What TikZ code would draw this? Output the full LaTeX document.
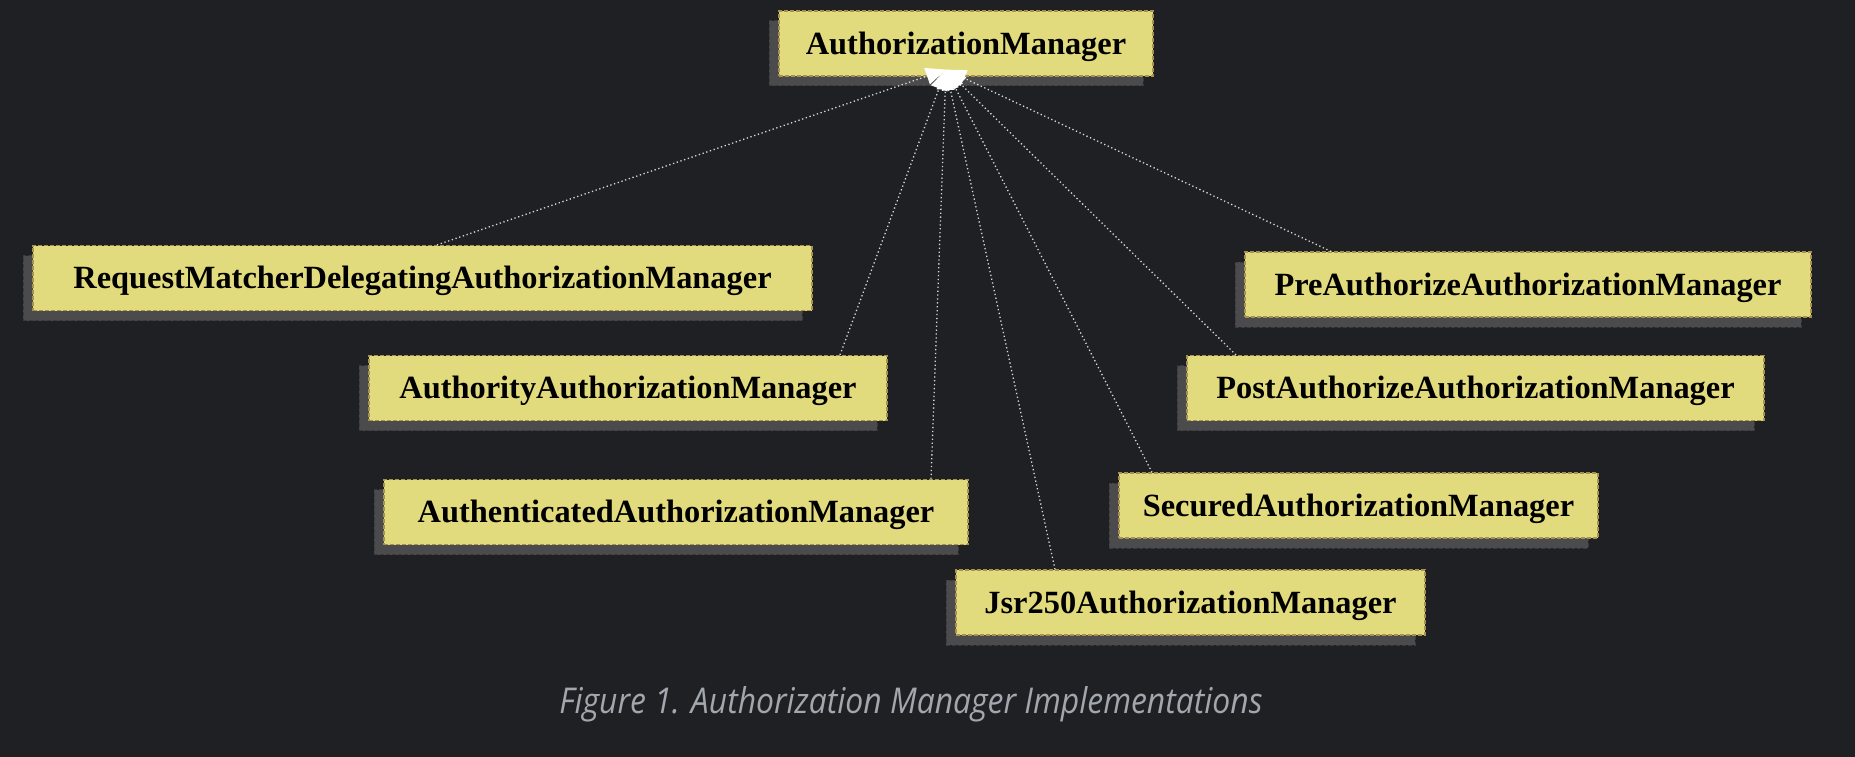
\documentclass[tikz,border=0pt]{standalone}
\usepackage{fontspec}
\setmainfont{Liberation Serif}
\newfontfamily\capfont{Open Sans}
\usetikzlibrary{arrows.meta,shadows}
\definecolor{bgc}{HTML}{1E2024}
\definecolor{boxfill}{HTML}{E2DB7D}
\definecolor{boxedge}{HTML}{A8904E}
\definecolor{shadc}{HTML}{4B4B4E}
\definecolor{shade}{HTML}{3A3A3D}
\definecolor{linec}{HTML}{D8D8D8}
\definecolor{capc}{HTML}{A2A6AD}
\tikzset{
  classbox/.style={draw=boxedge, fill=boxfill, line width=1.2pt,
    dash pattern=on 4pt off 2pt, minimum height=65pt, inner sep=0pt,
    font=\fontsize{32.4}{38}\selectfont\bfseries, text=black,
    text height=21.5pt, text depth=0pt,
    drop shadow={shadow xshift=-10pt, shadow yshift=-10pt, fill=shadc,
      draw=shade, line width=1pt, dash pattern=on 4pt off 2pt, opacity=1}},
  realize/.style={draw=linec, line width=1.3pt, dash pattern=on 1.3pt off 2.6pt,
    -{Triangle[length=20pt, width=17pt, color=white, fill=white]}}
}
\begin{document}
\begin{tikzpicture}[x=1pt,y=-1pt]
\fill[bgc] (0,0) rectangle (1855,757);
\useasboundingbox (0,0) rectangle (1855,757);
\node[classbox, minimum width=374pt] (am) at (966,43.5) {AuthorizationManager};
\node[classbox, minimum width=779pt] (rm) at (422.5,278) {RequestMatcherDelegatingAuthorizationManager};
\node[classbox, minimum width=566pt] (pre) at (1528,284.5) {PreAuthorizeAuthorizationManager};
\node[classbox, minimum width=518pt] (auth) at (628,388) {AuthorityAuthorizationManager};
\node[classbox, minimum width=577pt] (post) at (1475.5,388) {PostAuthorizeAuthorizationManager};
\node[classbox, minimum width=584pt] (authn) at (676,512) {AuthenticatedAuthorizationManager};
\node[classbox, minimum width=479pt] (sec) at (1358.5,505.5) {SecuredAuthorizationManager};
\node[classbox, minimum width=469pt] (jsr) at (1190.5,602.5) {Jsr250AuthorizationManager};
\coordinate (tip) at ([shift={(-20,-7)}]am.south);
\draw[realize] ([xshift=14.5pt]rm.north) -- (tip);
\draw[realize] ([xshift=212pt]auth.north) -- (tip);
\draw[realize] ([xshift=255pt]authn.north) -- (tip);
\draw[realize] ([xshift=-135.5pt]jsr.north) -- (tip);
\draw[realize] ([xshift=-206.5pt]sec.north) -- (tip);
\draw[realize] ([xshift=-239.5pt]post.north) -- (tip);
\draw[realize] ([xshift=-197pt]pre.north) -- (tip);
\node[text=capc, inner sep=0pt] (cap) at (911,704)
  {\resizebox{703pt}{27pt}{\capfont\itshape Figure 1. Authorization Manager Implementations}};
\end{tikzpicture}
\end{document}
